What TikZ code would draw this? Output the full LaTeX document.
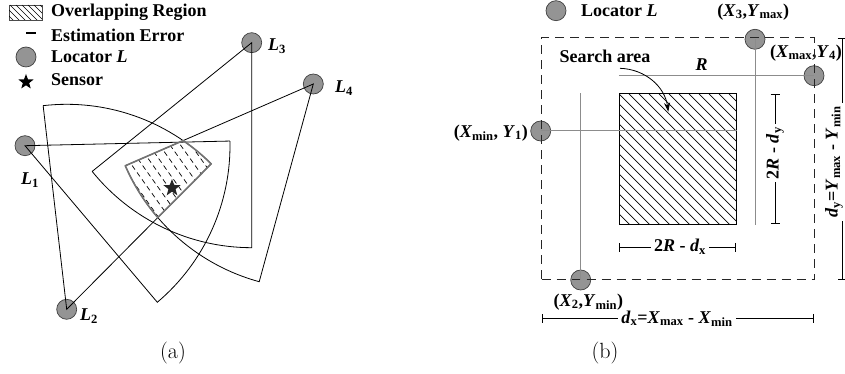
\documentclass[tikz,border=0pt]{standalone}
\usepackage{fontspec}
\newfontfamily\tf{Liberation Serif}
\usetikzlibrary{shapes.geometric,calc,arrows.meta}
\begin{document}
\begin{tikzpicture}[x=1pt,y=1pt,
  loc/.style={circle,draw=black!75,fill=black!42,minimum size=20pt,inner sep=0pt,line width=0.7pt},
  lbl/.style={font=\tf\bfseries\fontsize{18}{20}\selectfont,inner sep=0pt},
  captxt/.style={font=\fontsize{22}{24}\selectfont,inner sep=0pt},
  sec/.style={line width=0.8pt,black},
  sensor/.style={star,star points=5,star point ratio=2.4,fill=black,inner sep=0pt,minimum size=17pt},
  gl/.style={draw=black!45,line width=1pt},
  dimline/.style={line width=0.9pt,{Bar[width=9pt]}-{Bar[width=9pt]}},
  dimlbl/.style={lbl,fill=white,inner xsep=3pt,inner ysep=1pt}]
\useasboundingbox (0,0) rectangle (845,374);

% ---------------- panel (a) legend ----------------
\node[draw=black!70,line width=0.7pt,minimum width=33pt,minimum height=15pt,inner sep=0pt] (hbox) at (25.5,361.5) {};
\begin{scope}
  \clip (9,354) rectangle (42,369);
  \foreach \i in {0,...,8} \draw[line width=0.6pt] (\i*6-8,369) -- ++(16,-16);
\end{scope}
\node[lbl,anchor=west] (tov) at (51,362) {Overlapping Region};
\coordinate (e1) at (26,341);
\coordinate (e2) at (36,341);
\draw[line width=1.2pt] (e1) -- (e2);
\node[lbl,anchor=west] (tee) at (51,338.5) {Estimation Error};
\node[loc] (lg1) at (26,317) {};
\node[lbl,anchor=west] (tloc) at (51,317) {Locator \textit{L}};
\node[sensor,minimum size=16pt] (lgs) at (26,292) {};
\node[lbl,anchor=west] (tsen) at (51,294) {Sensor};

% ---------------- panel (a) locators ----------------
\node[loc] (L1) at (25,228.3) {};
\node[loc] (L2) at (66.7,64.7) {};
\node[loc] (L3) at (251.7,331.3) {};
\node[loc] (L4) at (313.3,290) {};
\node[lbl] (l1) at (30,194) {\textit{L}\textsubscript{1}};
\node[lbl] (l2) at (89,58) {\textit{L}\textsubscript{2}};
\node[lbl] (l3) at (277,328) {\textit{L}\textsubscript{3}};
\node[lbl] (l4) at (344,286) {\textit{L}\textsubscript{4}};

\coordinate (A1) at ($(L1.center)+(1.3:205)$);
\coordinate (B1) at ($(L1.center)+(-49.8:205)$);
\coordinate (A2) at ($(L2.center)+(96.6:205)$);
\coordinate (B2) at ($(L2.center)+(45.2:205)$);
\coordinate (A3) at ($(L3.center)+(218.9:205)$);
\coordinate (B3) at ($(L3.center)+(270:205)$);
\coordinate (A4) at ($(L4.center)+(203.5:205)$);
\coordinate (B4) at ($(L4.center)+(254.7:205)$);
\coordinate (Q)  at ($(L4.center)+(203.5:141.9)$);
\coordinate (P4) at ($(L2.center)+(45.2:129.3)$);

% hatched overlapping region
\begin{scope}
  \clip (A4) -- (Q) arc[start angle=55.4,end angle=45.2,radius=205] -- (P4)
        arc[start angle=220.7,end angle=203.5,radius=205] -- cycle;
  \foreach \i in {0,...,17} \draw[line width=0.7pt,dash pattern=on 5pt off 3.5pt] (50+\i*10.5,250) -- ++(-54.5:120);
\end{scope}

\draw[sec] (A1) -- (L1.center) -- (B1) arc[start angle=-49.8,end angle=1.3,radius=205];
\draw[sec] (A2) -- (L2.center) -- (B2) arc[start angle=45.2,end angle=96.6,radius=205];
\draw[sec] (A3) -- (L3.center) -- (B3) arc[start angle=270,end angle=218.9,radius=205];
\draw[sec] (A4) -- (L4.center) -- (B4) arc[start angle=254.7,end angle=203.5,radius=205];

\draw[draw=black!55,line width=1.6pt,line join=round]
  (A4) -- (Q) arc[start angle=55.4,end angle=45.2,radius=205] -- (P4)
  arc[start angle=220.7,end angle=203.5,radius=205] -- cycle;

\node[sensor,fill=black!85,minimum size=18pt] (S) at (172,186) {};

\node[captxt] (capa) at (173,21) {(a)};

% ---------------- panel (b) ----------------
\node[loc] (lgb) at (556,363.3) {};
\node[lbl,anchor=west] (tlocb) at (581,363) {Locator \textit{L}};

\node[loc] (C3) at (755,334.7) {};
\node[loc] (C4) at (814,298.3) {};
\node[loc] (C1) at (540.7,243) {};
\node[loc] (C2) at (580.7,94) {};

\node[lbl] (c3) at (753.3,362) {(\textit{X}\textsubscript{3},\textit{Y}\textsubscript{max})};
\node[lbl] (c4) at (806,321) {(\textit{X}\textsubscript{max},\textit{Y}\textsubscript{4})};
\node[lbl,anchor=east] (c1) at (528,241) {(\textit{X}\textsubscript{min}, \textit{Y}\textsubscript{1})};
\node[lbl] (c2) at (588.3,72) {(\textit{X}\textsubscript{2},\textit{Y}\textsubscript{min})};

% search area square
\begin{scope}
  \clip (619.3,149.7) rectangle (736,280);
  \foreach \i in {0,...,26} \draw[line width=0.7pt] (489+\i*10,280) -- ++(135,-135);
\end{scope}
\node[draw,line width=1pt,minimum width=116.7pt,minimum height=130.3pt,inner sep=0pt] (sq) at (677.65,214.85) {};

% dashed rectangle
\node[draw=black!85,line width=1pt,dash pattern=on 9pt off 6pt,minimum width=272.6pt,minimum height=242.3pt,inner sep=0pt] (rect) at (678,215.15) {};

% gray lines
\draw[gl] (sq.north west |- C4.center) -- (C4.center);
\draw[gl] (C3.center) -- (C3.center |- sq.south);
\draw[gl] (C1.center) -- (C1.center -| sq.east);
\draw[gl] (C2.center) -- (C2.center |- sq.north);

\node[lbl] (R) at (701.7,309) {\textit{R}};
\node[lbl] (sa) at (605,317.5) {Search area};
\coordinate (ar1) at (620,305.7);
\coordinate (ar2) at (668.3,262.3);
\draw[line width=0.8pt,-{Stealth[length=9pt,width=6pt]}] (ar1) to[out=-2,in=98] (ar2);

% dimensions
\coordinate (dx1) at (619.3,126.7);
\coordinate (dx2) at (736,126.7);
\draw[dimline] (dx1) -- (dx2);
\node[dimlbl] (dxl) at (680,127) {2\textit{R} - \textit{d}\textsubscript{x}};

\coordinate (dy1) at (775,149.7);
\coordinate (dy2) at (775,280);
\draw[dimline] (dy1) -- (dy2);
\node[dimlbl,rotate=90] (dyl) at (775,221) {2\textit{R} - \textit{d}\textsubscript{y}};

\coordinate (Dx1) at (541.7,55.7);
\coordinate (Dx2) at (814.3,55.7);
\draw[dimline] (Dx1) -- (Dx2);
\node[dimlbl] (Dxl) at (677,55.5) {\textit{d}\textsubscript{x}=\textit{X}\textsubscript{max} - \textit{X}\textsubscript{min}};

\coordinate (Dy1) at (842,94);
\coordinate (Dy2) at (842,336.3);
\draw[dimline] (Dy1) -- (Dy2);
\node[dimlbl,rotate=90] (Dyl) at (834,212) {\textit{d}\textsubscript{y}=\textit{Y}\textsubscript{max} - \textit{Y}\textsubscript{min}};

\node[captxt] (capb) at (605,21) {(b)};
\end{tikzpicture}
\end{document}
